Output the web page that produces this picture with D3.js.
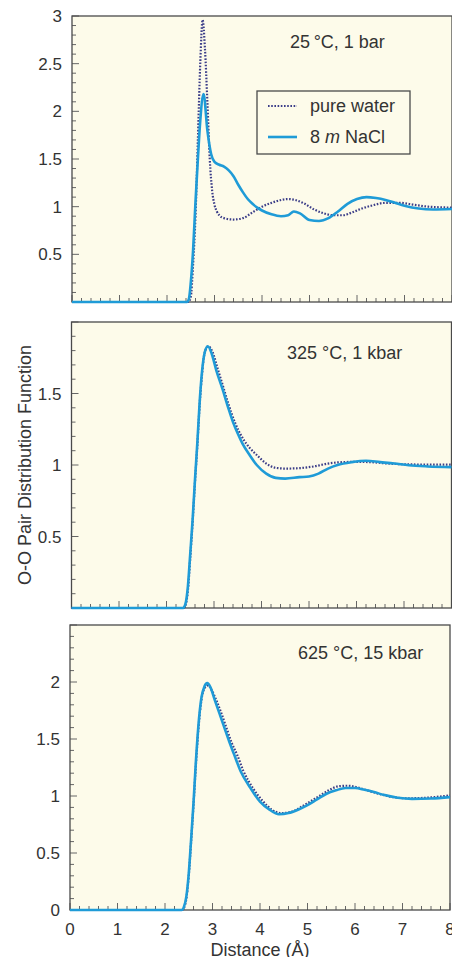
<!DOCTYPE html>
<html>
<head>
<meta charset="utf-8">
<script src="https://cdn.jsdelivr.net/npm/d3@7"></script>
<style>
  html, body { margin: 0; padding: 0; background: #fff; }
  svg { display: block; font-family: "Liberation Sans", Arial, sans-serif; }
</style>
</head>
<body>
<svg id="chart" width="452" height="957"></svg>
<script>
// O-O pair distribution, [distance, g(r)]
const water25 = [[0,0],[2.45,0],[2.5,0.05],[2.55,0.4],[2.6,0.9],[2.65,1.7],[2.7,2.5],[2.75,2.96],[2.8,2.65],[2.85,2.1],[2.9,1.5],[2.95,1.17],[3.0,1.02],[3.05,0.95],[3.1,0.91],[3.2,0.88],[3.4,0.865],[3.6,0.88],[3.8,0.94],[4.0,1.0],[4.2,1.04],[4.4,1.07],[4.55,1.08],[4.7,1.07],[4.9,1.03],[5.1,0.97],[5.3,0.93],[5.5,0.91],[5.7,0.91],[5.9,0.94],[6.1,0.98],[6.3,1.01],[6.6,1.04],[6.9,1.04],[7.2,1.02],[7.5,1.0],[8.0,0.99]];
const nacl25 = [[0,0],[2.42,0],[2.46,0.03],[2.5,0.2],[2.55,0.55],[2.6,1.05],[2.65,1.5],[2.7,1.9],[2.77,2.18],[2.85,1.8],[2.93,1.55],[3.0,1.47],[3.1,1.44],[3.2,1.42],[3.3,1.38],[3.4,1.32],[3.5,1.23],[3.6,1.15],[3.7,1.08],[3.8,1.03],[3.9,0.99],[4.0,0.96],[4.2,0.92],[4.4,0.9],[4.55,0.91],[4.67,0.95],[4.8,0.93],[5.0,0.86],[5.2,0.85],[5.4,0.88],[5.6,0.95],[5.8,1.03],[6.0,1.08],[6.2,1.1],[6.4,1.09],[6.6,1.07],[6.8,1.04],[7.0,1.01],[7.3,0.98],[7.6,0.97],[8.0,0.975]];

const water325 = [[0,0],[2.35,0],[2.4,0.02],[2.45,0.12],[2.5,0.35],[2.55,0.6],[2.6,0.88],[2.65,1.14],[2.7,1.43],[2.75,1.64],[2.8,1.78],[2.88,1.83],[2.97,1.79],[3.08,1.67],[3.2,1.54],[3.3,1.43],[3.45,1.29],[3.6,1.19],[3.75,1.12],[3.9,1.07],[4.1,1.01],[4.3,0.98],[4.5,0.975],[4.8,0.978],[5.1,0.99],[5.4,1.01],[5.7,1.02],[6.0,1.022],[6.3,1.02],[6.6,1.012],[7.0,1.005],[7.5,1.003],[8.0,1.003]];
const nacl325 = [[0,0],[2.35,0],[2.4,0.03],[2.45,0.15],[2.5,0.38],[2.55,0.62],[2.6,0.9],[2.65,1.16],[2.7,1.45],[2.75,1.66],[2.8,1.78],[2.87,1.83],[2.95,1.78],[3.05,1.66],[3.18,1.53],[3.3,1.4],[3.4,1.3],[3.5,1.22],[3.6,1.15],[3.75,1.07],[3.9,1.0],[4.1,0.94],[4.3,0.91],[4.5,0.905],[4.8,0.915],[5.0,0.92],[5.2,0.94],[5.4,0.975],[5.6,1.0],[5.9,1.02],[6.2,1.03],[6.5,1.02],[6.8,1.01],[7.1,0.998],[7.5,0.99],[8.0,0.985]];

const water625 = [[0,0],[2.35,0],[2.4,0.02],[2.45,0.1],[2.5,0.3],[2.55,0.6],[2.6,0.92],[2.65,1.27],[2.7,1.57],[2.77,1.85],[2.84,1.95],[2.91,1.97],[2.98,1.93],[3.1,1.82],[3.2,1.71],[3.3,1.59],[3.4,1.47],[3.52,1.36],[3.65,1.22],[3.85,1.07],[4.05,0.96],[4.25,0.88],[4.45,0.85],[4.65,0.86],[4.85,0.9],[5.05,0.95],[5.25,1.0],[5.45,1.05],[5.65,1.085],[5.85,1.09],[6.05,1.075],[6.25,1.05],[6.5,1.02],[6.8,0.99],[7.1,0.98],[7.5,0.985],[8.0,1.005]];
const nacl625 = [[0,0],[2.35,0],[2.4,0.03],[2.45,0.12],[2.5,0.32],[2.55,0.62],[2.6,0.94],[2.65,1.3],[2.7,1.6],[2.77,1.87],[2.83,1.96],[2.89,1.99],[2.95,1.96],[3.05,1.84],[3.15,1.72],[3.25,1.6],[3.35,1.48],[3.45,1.37],[3.6,1.21],[3.8,1.07],[4.0,0.95],[4.2,0.88],[4.4,0.84],[4.6,0.85],[4.8,0.88],[5.0,0.92],[5.2,0.97],[5.4,1.02],[5.6,1.05],[5.8,1.07],[6.0,1.07],[6.2,1.055],[6.4,1.035],[6.6,1.01],[6.9,0.985],[7.2,0.975],[7.6,0.978],[8.0,0.99]];

const titles = ["25\u2009°C, 1 bar", "325 °C, 1 kbar", "625 °C, 15 kbar"];
const yMaxes = [3, 2, 2.5];
const yTickLabels = [[0.5, 1, 1.5, 2, 2.5, 3], [0.5, 1, 1.5], [0, 0.5, 1, 1.5, 2]];
const xTickLabels = [0, 1, 2, 3, 4, 5, 6, 7, 8];
const legendLabels = ["pure water", "8 m NaCl"];

const BG = "#fdfbea";
const FRAME = "#4a4a4a";
const WATER = "#3b3d88";
const NACL = "#1f9bd7";

// panel boxes (left, top, bottom); each panel is 380 px wide
const boxes = [
  { left: 72,   top: 16,  bottom: 302 },
  { left: 71.5, top: 322, bottom: 608 },
  { left: 70,   top: 625, bottom: 910 },
];
const plotW = 380;

const svg = d3.select("#chart");
const panelData = [[water25, nacl25], [water325, nacl325], [water625, nacl625]];

panelData.forEach(([water, nacl], i) => {
  const b = boxes[i];
  const x = d3.scaleLinear().domain([0, 8]).range([b.left, b.left + plotW]);
  const y = d3.scaleLinear().domain([0, yMaxes[i]]).range([b.bottom, b.top]);
  const g = svg.append("g");

  g.append("rect")
    .attr("x", b.left).attr("y", b.top)
    .attr("width", plotW).attr("height", b.bottom - b.top)
    .attr("fill", BG);

  // y ticks: minor every 0.1, major every 0.5, pointing inward
  const yMinor = d3.range(0, yMaxes[i] + 1e-6, 0.1);
  g.append("g").selectAll("line")
    .data(yMinor)
    .join("line")
    .attr("x1", b.left).attr("x2", d => (Math.round(d * 10) % 5 === 0) ? b.left + 7 : b.left + 4)
    .attr("y1", d => y(d)).attr("y2", d => y(d))
    .attr("stroke", "#666").attr("stroke-width", 1);

  // x ticks: minor every 0.2, major every 1, pointing up
  const xMinor = d3.range(0, 8 + 1e-6, 0.2);
  g.append("g").selectAll("line")
    .data(xMinor)
    .join("line")
    .attr("x1", d => x(d)).attr("x2", d => x(d))
    .attr("y1", b.bottom)
    .attr("y2", d => (Math.round(d * 5) % 5 === 0) ? b.bottom - 7 : b.bottom - 4)
    .attr("stroke", "#666").attr("stroke-width", 1);

  g.append("rect")
    .attr("x", b.left).attr("y", b.top)
    .attr("width", plotW).attr("height", b.bottom - b.top)
    .attr("fill", "none")
    .attr("stroke", FRAME).attr("stroke-width", 1.3);

  g.append("g").selectAll("text")
    .data(yTickLabels[i])
    .join("text")
    .attr("x", b.left - 10)
    .attr("y", d => y(d))
    .attr("dy", "0.36em")
    .attr("text-anchor", "end")
    .attr("font-size", "17px")
    .attr("fill", "#333")
    .text(d => d);

  const line = d3.line()
    .x(d => x(d[0]))
    .y(d => y(d[1]))
    .curve(d3.curveMonotoneX);

  g.append("path")
    .datum(water)
    .attr("d", line)
    .attr("fill", "none")
    .attr("stroke", WATER)
    .attr("stroke-width", 2.2)
    .attr("stroke-dasharray", "1.6,1.6");

  g.append("path")
    .datum(nacl)
    .attr("d", line)
    .attr("fill", "none")
    .attr("stroke", NACL)
    .attr("stroke-width", 2.6)
    .attr("stroke-linejoin", "round");

  g.append("text")
    .attr("x", [290, 287, 298][i])
    .attr("y", [48, 359, 659][i])
    .attr("font-size", "18px")
    .attr("fill", "#333")
    .text(titles[i]);

  if (i === 2) {
    g.append("g").selectAll("text")
      .data(xTickLabels)
      .join("text")
      .attr("x", d => x(d))
      .attr("y", 935)
      .attr("text-anchor", "middle")
      .attr("font-size", "17px")
      .attr("fill", "#333")
      .text(d => d);

    g.append("text")
      .attr("x", 260).attr("y", 956)
      .attr("text-anchor", "middle")
      .attr("font-size", "18px")
      .attr("fill", "#333")
      .text("Distance (Å)");
  }
});

// y axis title
svg.append("text")
  .attr("transform", "translate(31,465) rotate(-90)")
  .attr("text-anchor", "middle")
  .attr("font-size", "18px")
  .attr("fill", "#333")
  .text("O-O Pair Distribution Function");

// legend in the top panel
const lg = svg.append("g");
lg.append("rect")
  .attr("x", 257).attr("y", 91).attr("width", 153).attr("height", 63)
  .attr("fill", BG)
  .attr("stroke", FRAME).attr("stroke-width", 1.3);

lg.append("line")
  .attr("x1", 268).attr("x2", 297).attr("y1", 106).attr("y2", 106)
  .attr("stroke", WATER).attr("stroke-width", 2.2)
  .attr("stroke-dasharray", "1.6,1.6");
lg.append("line")
  .attr("x1", 268).attr("x2", 297).attr("y1", 137).attr("y2", 137)
  .attr("stroke", NACL).attr("stroke-width", 2.6);

lg.append("text")
  .attr("x", 310).attr("y", 112)
  .attr("font-size", "18px").attr("fill", "#333")
  .text(legendLabels[0]);

const t2 = lg.append("text")
  .attr("x", 310).attr("y", 143)
  .attr("font-size", "18px").attr("fill", "#333");
t2.append("tspan").text("8 ");
t2.append("tspan").attr("font-style", "italic").text("m");
t2.append("tspan").text(" NaCl");
</script>
</body>
</html>
